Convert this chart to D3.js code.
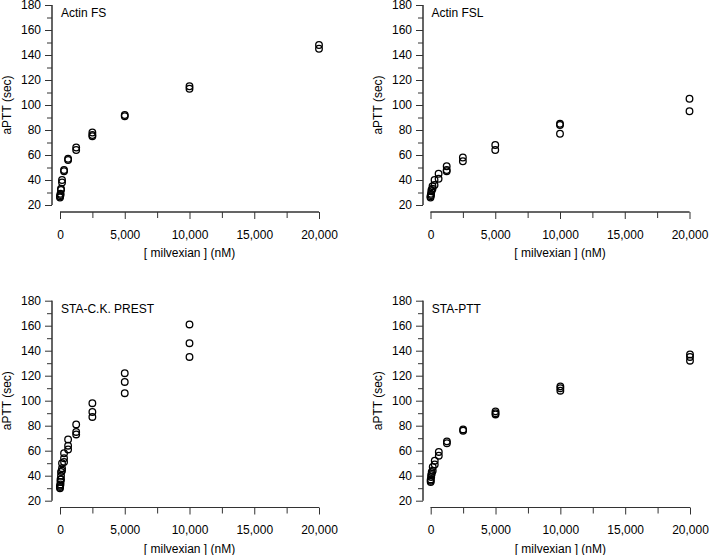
<!DOCTYPE html>
<html>
<head>
<meta charset="utf-8">
<script src="https://cdn.jsdelivr.net/npm/d3@7"></script>
<style>
  html, body { margin: 0; padding: 0; background: #fff; }
  svg { display: block; font-family: "Liberation Sans", Arial, sans-serif; }
</style>
</head>
<body>
<svg id="chart" width="709" height="555"></svg>
<script>
// milvexian concentrations (nM)
const concentrations = [0, 39.0625, 78.125, 156.25, 312.5, 625, 1250, 2500, 5000, 10000, 20000];

// aPTT (sec) replicates per concentration
const actinFS = [[26, 27], [28, 29], [32, 33], [38, 40], [47, 48], [56, 57], [64, 66], [75, 76, 78], [91, 92], [113, 115], [145, 148]];
const actinFSL = [[26, 27], [28, 29], [31, 32], [33, 35], [36, 40], [41, 45], [47, 48, 51], [55, 58], [64, 68], [77, 84, 85], [95, 105]];
const staCKPrest = [[30, 31, 32], [33, 35, 37], [37, 40, 43], [44, 46, 50], [51, 54, 58], [61, 64, 69], [73, 75, 81], [87, 91, 98], [106, 115, 122], [135, 146, 161], []];
const staPTT = [[35, 36, 37], [39, 40.5], [41.5, 43], [44, 47], [49, 52], [56, 59], [66, 67.5], [76, 77], [89, 90, 91.5], [108, 110, 111.5], [132, 135, 137]];

const panelTitles = ["Actin FS", "Actin FSL", "STA-C.K. PREST", "STA-PTT"];
const panelData = [actinFS, actinFSL, staCKPrest, staPTT];

const yTickValues = [20, 40, 60, 80, 100, 120, 140, 160, 180];
const yMinorTicks = [30, 50, 70, 90, 110, 130, 150, 170];
const xTickValues = [0, 5000, 10000, 15000, 20000];
const xMinorTicks = [2500, 7500, 12500, 17500];

const xTitle = "[ milvexian ] (nM)";
const yTitle = "aPTT (sec)";

// layout
const panels = [
  { yAxisX: 52, x0: 60, x1: 319, yTop: 5, yBot: 205, xAxisY: 212 },
  { yAxisX: 423, x0: 430.5, x1: 689.5, yTop: 5, yBot: 205, xAxisY: 212 },
  { yAxisX: 52, x0: 60, x1: 319, yTop: 300.7, yBot: 500.7, xAxisY: 507.5 },
  { yAxisX: 423, x0: 430.7, x1: 690, yTop: 300.7, yBot: 500.7, xAxisY: 507.5 }
];

const svg = d3.select("#chart");
const fmt = d3.format(",");
const axisColor = "#333";

panels.forEach((p, i) => {
  const x = d3.scaleLinear().domain([0, 20000]).range([p.x0, p.x1]);
  const y = d3.scaleLinear().domain([20, 180]).range([p.yBot, p.yTop]);
  const g = svg.append("g");

  // Y axis minor ticks
  const yMinor = g.append("g").attr("transform", `translate(${p.yAxisX},0)`)
    .call(d3.axisLeft(y).tickValues(yMinorTicks).tickSize(5).tickFormat(""));
  // Y axis major ticks + labels
  const yAx = g.append("g").attr("transform", `translate(${p.yAxisX},0)`)
    .call(d3.axisLeft(y).tickValues(yTickValues).tickSize(7).tickPadding(4).tickFormat(d3.format("d")));
  [yMinor, yAx].forEach(a => {
    a.select(".domain").attr("d", `M0,${p.yBot}V${p.yTop}`).attr("stroke", axisColor).attr("stroke-width", 1);
    a.selectAll(".tick line").attr("stroke", axisColor);
  });
  yAx.selectAll(".tick text").attr("font-size", 12).attr("fill", "#000")
    .attr("font-family", "'Liberation Sans', Arial, sans-serif");

  // X axis minor ticks
  const xMinor = g.append("g").attr("transform", `translate(0,${p.xAxisY})`)
    .call(d3.axisBottom(x).tickValues(xMinorTicks).tickSize(6).tickFormat(""));
  // X axis major ticks + labels
  const xAx = g.append("g").attr("transform", `translate(0,${p.xAxisY})`)
    .call(d3.axisBottom(x).tickValues(xTickValues).tickSize(7).tickPadding(11).tickFormat(fmt));
  [xMinor, xAx].forEach(a => {
    a.select(".domain").attr("d", `M${p.x0},0H${p.x1}`).attr("stroke", axisColor).attr("stroke-width", 1);
    a.selectAll(".tick line").attr("stroke", axisColor);
  });
  xAx.selectAll(".tick text").attr("font-size", 12).attr("fill", "#000")
    .attr("font-family", "'Liberation Sans', Arial, sans-serif");

  // titles
  g.append("text")
    .attr("x", (p.x0 + p.x1) / 2).attr("y", p.xAxisY + 45)
    .attr("text-anchor", "middle").attr("font-size", 12).attr("fill", "#000")
    .text(xTitle);
  g.append("text")
    .attr("transform", `translate(${p.yAxisX - 41},${(p.yTop + p.yBot) / 2}) rotate(-90)`)
    .attr("text-anchor", "middle").attr("font-size", 12).attr("fill", "#000")
    .text(yTitle);
  g.append("text")
    .attr("x", p.x0 + 1).attr("y", p.yTop + 12)
    .attr("font-size", 12).attr("fill", "#000")
    .text(panelTitles[i]);

  // points
  const pts = [];
  panelData[i].forEach((vals, ci) => vals.forEach(v => pts.push({ c: concentrations[ci], v })));
  g.append("g").selectAll("circle").data(pts).join("circle")
    .attr("cx", d => x(d.c)).attr("cy", d => y(d.v)).attr("r", 3.3)
    .attr("fill", "none").attr("stroke", "#000").attr("stroke-width", 1.3);
});
</script>
</body>
</html>
